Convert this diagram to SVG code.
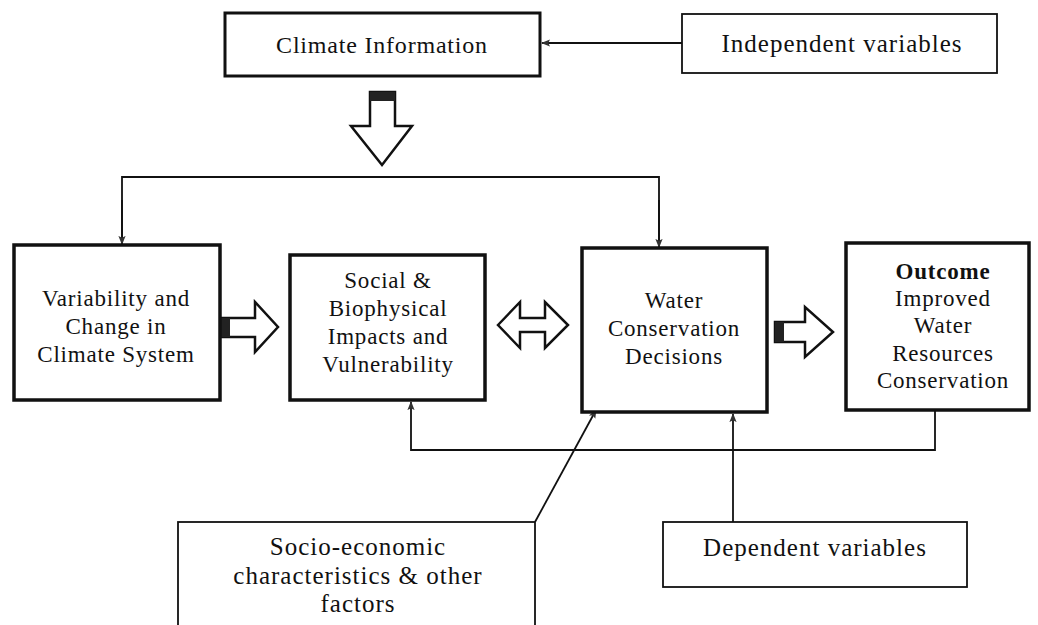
<svg xmlns="http://www.w3.org/2000/svg" width="1038" height="625" viewBox="0 0 1038 625">
<style>
.main{fill:#fff;stroke:#111;stroke-width:3.5}
.side{fill:#fff;stroke:#111;stroke-width:1.8}
.t{font-family:"Liberation Serif","Times New Roman",serif;fill:#111;text-anchor:middle;letter-spacing:0.8px}
.tm{font-size:23px}
.ts{font-size:25px;letter-spacing:1px}
.con{fill:none;stroke:#111;stroke-width:1.8}
.blk{fill:#fff;stroke:#111;stroke-width:2.5;stroke-linejoin:miter}
</style>
<defs>
<marker id="ah" viewBox="0 0 10 10" refX="9" refY="5" markerWidth="9" markerHeight="9" orient="auto" markerUnits="userSpaceOnUse">
<path d="M0,1 L10,5 L0,9 L2,5 Z" fill="#333"/>
</marker>
</defs>
<rect width="1038" height="625" fill="#fff"/>

<g id="connectors">
<line class="con" x1="682" y1="43" x2="542" y2="43" marker-end="url(#ah)"/>
<polyline class="con" points="122,245 122,177 659,177 659,248" />
<line class="con" x1="122" y1="200" x2="122" y2="244" marker-end="url(#ah)"/>
<line class="con" x1="659" y1="200" x2="659" y2="247" marker-end="url(#ah)"/>
<polyline class="con" points="935,410 935,450 411,450 411,402" marker-end="url(#ah)"/>
<line class="con" x1="733" y1="522" x2="733" y2="414" marker-end="url(#ah)"/>
<line class="con" x1="535" y1="522" x2="596" y2="410" marker-end="url(#ah)"/>
<g id="blockarrows">
<path class="blk" d="M370,92 L395,92 L395,126 L412,126 L382,165 L351,126 L370,126 Z"/>
<rect x="370" y="92" width="25" height="9" fill="#222"/>
<path class="blk" d="M220,318 L255,318 L255,302 L278,327 L255,352 L255,337 L220,337 Z"/>
<rect x="220" y="318" width="10" height="19" fill="#222"/>
<path class="blk" d="M498,325 L520,302 L520,318 L545,318 L545,302 L568,325 L545,348 L545,332 L520,332 L520,348 Z"/>
<path class="blk" d="M775,322 L805,322 L805,307 L833,332 L805,357 L805,342 L775,342 Z"/>
<rect x="775" y="322" width="9" height="20" fill="#222"/>
</g>
</g>

<g id="climate-info">
<rect class="main" x="225" y="13" width="315" height="63" style="stroke-width:3"/>
<text class="t" x="382" y="53" style="font-size:24px">Climate Information</text>
</g>

<g id="independent">
<rect class="side" x="682" y="14" width="315" height="59"/>
<text class="t ts" x="842" y="52">Independent variables</text>
</g>

<g id="variability">
<rect class="main" x="14" y="245" width="206" height="155"/>
<text class="t tm" x="116" y="306">Variability and</text>
<text class="t tm" x="116" y="334">Change in</text>
<text class="t tm" x="116" y="362">Climate System</text>
</g>

<g id="social">
<rect class="main" x="290" y="255" width="195" height="145"/>
<text class="t tm" x="388" y="288">Social &amp;</text>
<text class="t tm" x="388" y="316">Biophysical</text>
<text class="t tm" x="388" y="344">Impacts and</text>
<text class="t tm" x="388" y="372">Vulnerability</text>
</g>

<g id="water">
<rect class="main" x="582" y="248" width="185" height="164"/>
<text class="t tm" x="674" y="308">Water</text>
<text class="t tm" x="674" y="336">Conservation</text>
<text class="t tm" x="674" y="364">Decisions</text>
</g>

<g id="outcome">
<rect class="main" x="846" y="243" width="183" height="167"/>
<text class="t tm" x="943" y="279" font-weight="bold">Outcome</text>
<text class="t tm" x="943" y="306">Improved</text>
<text class="t tm" x="943" y="333">Water</text>
<text class="t tm" x="943" y="361">Resources</text>
<text class="t tm" x="943" y="388">Conservation</text>
</g>

<g id="socio">
<rect class="side" x="178" y="522" width="357" height="110"/>
<text class="t ts" x="358" y="555">Socio-economic</text>
<text class="t ts" x="358" y="584">characteristics &amp; other</text>
<text class="t ts" x="358" y="612">factors</text>
</g>

<g id="dependent">
<rect class="side" x="663" y="522" width="304" height="65"/>
<text class="t ts" x="815" y="556">Dependent variables</text>
</g>
</svg>
